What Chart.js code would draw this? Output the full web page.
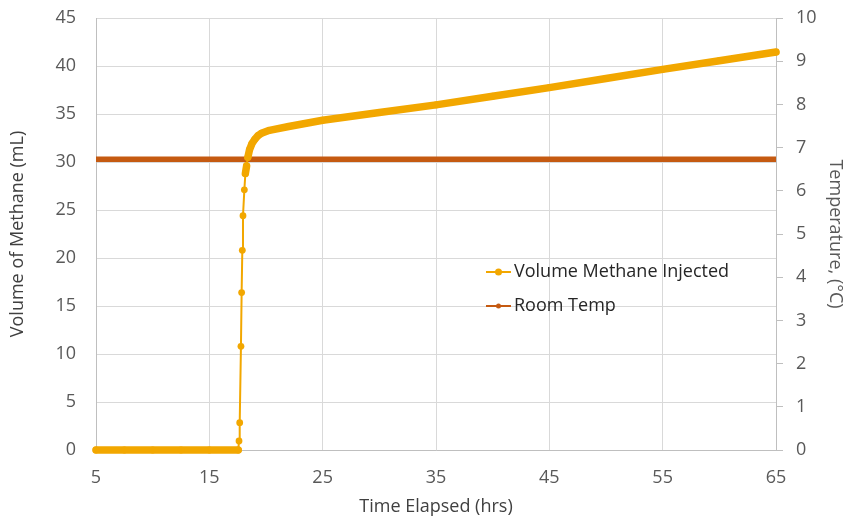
<!DOCTYPE html>
<html>
<head>
<meta charset="utf-8">
<script src="https://cdn.jsdelivr.net/npm/chart.js@4.4.1/dist/chart.umd.min.js"></script>
<style>
  html, body { margin: 0; padding: 0; background: #ffffff; }
  #wrap { width: 846px; height: 519px; }
</style>
</head>
<body>
<div id="wrap"><canvas id="c" width="846" height="519"></canvas></div>
<script>
// ---- data ----
const timeHrs = [5, 7.5, 10, 12.5, 15, 17.55, 17.62, 17.68, 17.79, 17.85, 17.91, 17.97, 18.09, 18.18, 18.29, 18.4, 18.55, 18.75, 19.0, 19.3, 19.6, 20.3, 22, 25, 30, 35, 40, 45, 50, 55, 60, 65];
const volumeMl = [0, 0, 0, 0, 0, 0, 0.94, 2.85, 10.8, 16.4, 20.8, 24.4, 27.1, 28.8, 29.6, 30.5, 31.3, 31.9, 32.35, 32.75, 33.0, 33.3, 33.7, 34.35, 35.15, 35.95, 36.85, 37.75, 38.7, 39.65, 40.55, 41.45];
const tempHrs = [5, 65];
const roomTempC = [6.73, 6.73];
const seriesNames = ['Volume Methane Injected', 'Room Temp'];
const xTicks = { min: 5, max: 65, step: 10 };
const yTicks = { min: 0, max: 45, step: 5 };
const y2Ticks = { min: 0, max: 10, step: 1 };

const volColor = '#F2A700';
const tempColor = '#C55A11';
const FONT = "'Open Sans', 'Noto Sans', sans-serif";
const FS = 18;

const volData = timeHrs.map((t, i) => ({ x: t, y: volumeMl[i] }));
const tempData = tempHrs.map((t, i) => ({ x: t, y: roomTempC[i] }));

const legendPlugin = {
  id: 'insideLegend',
  afterDraw(chart) {
    const ctx = chart.ctx;
    const items = [
      { text: seriesNames[0], color: volColor, r: 3.5, y: 272 },
      { text: seriesNames[1], color: tempColor, r: 2.5, y: 306 }
    ];
    ctx.save();
    items.forEach(it => {
      ctx.strokeStyle = it.color;
      ctx.lineWidth = 2;
      ctx.beginPath();
      ctx.moveTo(486, it.y);
      ctx.lineTo(511, it.y);
      ctx.stroke();
      ctx.fillStyle = it.color;
      ctx.beginPath();
      ctx.arc(498.5, it.y, it.r, 0, Math.PI * 2);
      ctx.fill();
      ctx.fillStyle = '#262626';
      ctx.font = FS + 'px ' + FONT;
      ctx.textBaseline = 'middle';
      ctx.textAlign = 'left';
      ctx.fillText(it.text, 514, it.y);
    });
    ctx.restore();
  }
};

new Chart(document.getElementById('c'), {
  type: 'line',
  data: {
    datasets: [
      {
        label: seriesNames[0],
        data: volData,
        yAxisID: 'y',
        borderColor: volColor,
        backgroundColor: volColor,
        pointBackgroundColor: volColor,
        pointBorderWidth: 0,
        pointRadius: 3.4,
        borderWidth: 2,
        borderCapStyle: 'round',
        borderJoinStyle: 'round',
        clip: false,
        segment: {
          borderWidth: ctx => {
            const dx = ctx.p1.parsed.x - ctx.p0.parsed.x;
            const dy = ctx.p1.parsed.y - ctx.p0.parsed.y;
            return (dy / dx) > 8 ? 2 : 7.5;
          }
        }
      },
      {
        label: seriesNames[1],
        data: tempData,
        yAxisID: 'y2',
        borderColor: tempColor,
        backgroundColor: tempColor,
        pointRadius: 0,
        borderWidth: 5.5,
        borderCapStyle: 'butt',
        clip: false
      }
    ]
  },
  options: {
    responsive: false,
    animation: false,
    events: [],
    layout: { padding: { top: 18, left: 0, right: 0, bottom: 0 } },
    plugins: { legend: { display: false }, tooltip: { enabled: false } },
    scales: {
      x: {
        type: 'linear',
        position: 'bottom',
        min: xTicks.min, max: xTicks.max,
        ticks: { stepSize: xTicks.step, color: '#595959', font: { family: FONT, size: FS }, padding: 17, maxRotation: 0 },
        grid: { color: '#d9d9d9', drawTicks: false, lineWidth: 1 },
        border: { color: '#bfbfbf' },
        title: { display: true, text: 'Time Elapsed (hrs)', color: '#404040', font: { family: FONT, size: FS }, padding: { top: 0, bottom: 1.2 } },
        afterFit: s => { s.height = 69; }
      },
      y: {
        position: 'left',
        min: yTicks.min, max: yTicks.max,
        ticks: { stepSize: yTicks.step, color: '#595959', font: { family: FONT, size: FS }, padding: 20 },
        grid: { color: '#d9d9d9', drawTicks: false, lineWidth: 1 },
        border: { color: '#bfbfbf' },
        title: { display: true, text: 'Volume of Methane (mL)', color: '#404040', font: { family: FONT, size: FS }, padding: { top: 7.2, bottom: 0 } },
        afterFit: s => { s.width = 96; s.paddingTop = 0; s.paddingBottom = 0; }
      },
      y2: {
        position: 'right',
        min: y2Ticks.min, max: y2Ticks.max,
        ticks: { stepSize: y2Ticks.step, color: '#595959', font: { family: FONT, size: FS }, padding: 13 },
        grid: { drawOnChartArea: false, drawTicks: true, tickLength: 7, color: '#bfbfbf' },
        border: { color: '#bfbfbf' },
        title: { display: true, text: 'Temperature, (°C)', color: '#595959', font: { family: FONT, size: FS }, padding: { top: 0, bottom: 0 } },
        afterFit: s => { s.width = 70; s.paddingTop = 0; s.paddingBottom = 0; }
      }
    }
  },
  plugins: [legendPlugin]
});
</script>
</body>
</html>
